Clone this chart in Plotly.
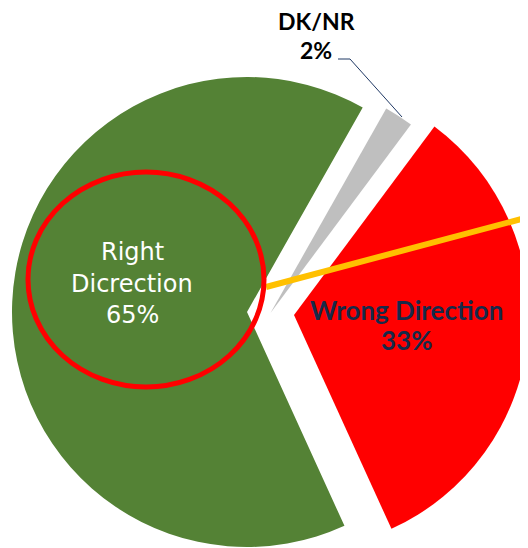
import plotly.graph_objects as go

# data
labels = ["DK/NR", "Wrong Direction", "Right Dicrection"]
values = [2, 33, 65]
colors = ["#bfbfbf", "#ff0000", "#548235"]

W, H = 528, 548
OFF = 8   # the page body margin pushes the figure 8px right/down
R = 235   # pie radius in px

# exploded slice centres (px, in window coordinates)
centres = [(270.5, 313), (294, 315), (247, 312)]


def px(x):
    return (x - OFF) / W


def py(y):
    return 1 - (y - OFF) / H


def domain(cx, cy, r):
    return dict(x=[max(0, px(cx - r)), min(1, px(cx + r))],
                y=[max(0, py(cy + r)), min(1, py(cy - r))])


fig = go.Figure()

# one trace per slice so each can be moved out on its own
for i, (cx, cy) in enumerate(centres):
    cols = [c if j == i else "rgba(0,0,0,0)" for j, c in enumerate(colors)]
    fig.add_trace(go.Pie(
        labels=labels, values=values,
        marker=dict(colors=cols, line=dict(width=0)),
        sort=False, direction="clockwise", rotation=29.5,
        textinfo="none", hoverinfo="label+percent",
        domain=domain(cx, cy, R),
        showlegend=False,
    ))

total = sum(values)
pct = [f"{round(v / total * 100)}%" for v in values]

right_words = labels[2].split(" ")
lato_b = dict(family="Lato", size=23, color="#000000")
wrong_f = dict(family="Lato", size=26, color="#162a4a")
right_f = dict(family="DejaVu Sans", size=24, color="#ffffff")

annotations = [
    dict(x=px(316), y=py(21), text="<b>%s</b>" % labels[0], font=lato_b),
    dict(x=px(316), y=py(50), text="<b>%s</b>" % pct[0], font=lato_b),
    dict(x=px(406), y=py(310), text="<b>%s</b>" % labels[1], font=wrong_f),
    dict(x=px(406), y=py(340), text="<b>%s</b>" % pct[1], font=wrong_f),
    dict(x=px(132), y=py(252), text=right_words[0], font=right_f),
    dict(x=px(132), y=py(284), text=right_words[1], font=right_f),
    dict(x=px(132), y=py(315), text=pct[2], font=right_f),
]
for a in annotations:
    a.update(xref="paper", yref="paper", showarrow=False,
             xanchor="center", yanchor="middle", align="center")

shapes = [
    # leader line for DK/NR
    dict(type="path", xref="paper", yref="paper",
         path=f"M {px(338)},{py(59)} L {px(350)},{py(59)} L {px(402)},{py(117)}",
         line=dict(color="#1f3864", width=1)),
    # orange line
    dict(type="line", xref="paper", yref="paper",
         x0=px(266), y0=py(287), x1=px(540), y1=py(214),
         line=dict(color="#ffc000", width=6)),
    # red circle highlight
    dict(type="circle", xref="paper", yref="paper",
         x0=px(28), x1=px(264), y0=py(172), y1=py(387),
         line=dict(color="#ff0000", width=5)),
]

fig.update_layout(
    width=W, height=H,
    margin=dict(l=0, r=0, t=0, b=0),
    paper_bgcolor="white", plot_bgcolor="white",
    annotations=annotations, shapes=shapes,
)

fig.write_html("out.html")
